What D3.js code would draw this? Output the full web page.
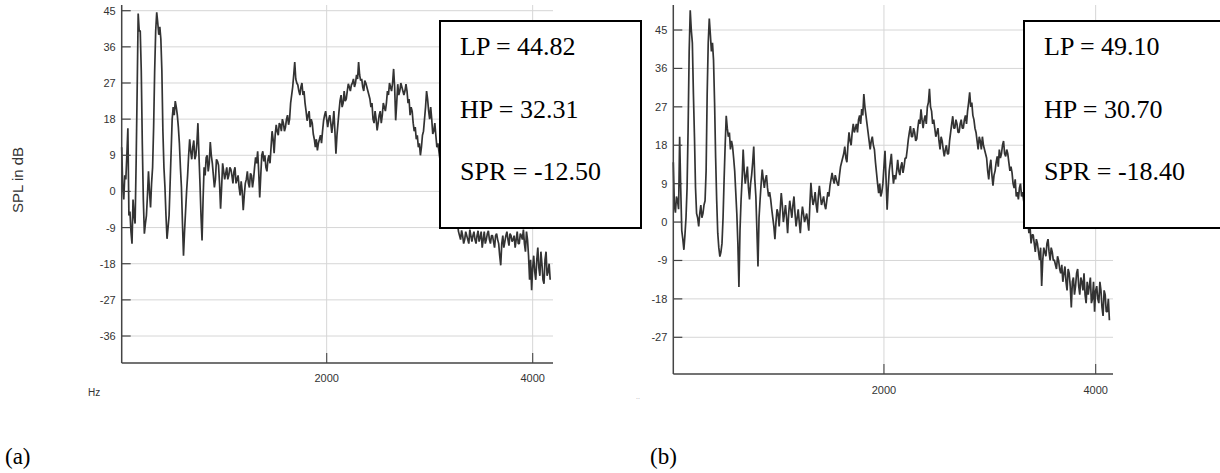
<!DOCTYPE html>
<html><head><meta charset="utf-8">
<script src="https://cdn.jsdelivr.net/npm/d3@7"></script>
<style>body{margin:0;background:#fff} svg{display:block}</style>
</head><body>
<svg id="c" width="1220" height="473"></svg>
<script>
// ---- data ----
const yTicksA = [45, 36, 27, 18, 9, 0, -9, -18, -27, -36];
const yTicksB = [45, 36, 27, 18, 9, 0, -9, -18, -27];
const xTicks = [2000, 4000];
const hzStart = 10, hzStep = 20;   // samples at 10, 30, 50 ... Hz (main) and 20, 40 ... Hz (in-between)
// panel (a): SPL at 10 + 20*i Hz
const splA = [
 11, -2, 3, 15.7, -5, -13, -6, 7, 44.3, 40,
 12, -10.5, -6, 5, -4, 6, 30, 44.6, 39, 38,
 15, 1, -11.8, -6, 10, 21, 22.5, 19, 12, 1,
 -16, -5, 4, 13, 8, 12.7, 9, 17, 2, -12.2,
 6, 8.4, 5, 12.3, 7, 1, 8, 6.5, -4.3, 7,
 3, 6, 4, 5.5, 2, 6, 3, 1, 2.5, -4.7,
 2, 5, 1, 4, 3, 8.5, 10, -1.5, 9, 7.5,
 6, 8, 7, 15, 9.5, 16.6, 14, 16.6, 18, 15,
 18, 16.6, 22, 26, 32.2, 27, 25, 26, 24, 22,
 17.6, 20, 18, 14.3, 11, 10.2, 13, 12, 17.6, 20,
 16, 19, 14.6, 20, 9.4, 17, 22.6, 21, 25, 23,
 26.8, 25, 27, 26, 29, 32.2, 27.6, 26, 27.6, 26,
 24, 21, 18, 20, 15.2, 19, 17, 22, 20, 25,
 27, 25, 30.5, 17.7, 26.7, 25, 26, 24, 26.7, 22,
 19, 20, 15, 13, 11, 9, 14, 18, 25, 20,
 21, 14.3, 17, 11, 10, 6, 3, 0, -3, -5,
 -2, -6, -4, -8, -11, -9.7, -13, -10, -12, -9.5,
 -12.5, -10, -13, -9.8, -11.5, -14, -10, -12, -9.8, -13,
 -11, -14, -10.5, -13, -18.4, -11, -12.5, -10, -13.5, -11,
 -12, -14, -10, -13, -11, -9.5, -15, -12, -22, -24.6,
 -16, -22, -14, -21, -18, -23, -15, -20, -22
];
// panel (a): SPL at 20 + 20*i Hz (other side of the noise band)
const splA2 = [
 1, 4, 9, -6, -10, -2, -8, 25, 40, 30,
 -2, -8, -1, 0, 2, 16, 40, 42, 41, 30,
 6, -6, -9, 2, 18, 19, 21, 16, 6, -8,
 -10, 0, 9, 10, 11, 8, 12, 9, -6, -2,
 4, 9, 7, 9, 4, 3, 7.5, 2, 1, 5,
 4.5, 3, 6, 4, 5, 2, 4, -1, 0, -1,
 3, 2, 4.5, 1, 6, 7, 5, 4, 10, 9,
 5, 9, 11, 13, 14, 15, 17, 15, 17, 16,
 19, 18, 24, 29, 28, 26.5, 24, 27, 25, 20,
 19, 16, 17, 13, 13, 12, 14, 15, 19, 18,
 18, 17, 17, 15, 14, 20, 24, 22, 22.5, 25,
 26, 26.5, 28, 27, 28, 29, 28, 25, 27, 25,
 23, 22, 17, 18, 17, 20, 19, 21, 22, 24,
 26, 27, 26, 22, 24, 27, 25, 25, 25, 23,
 21, 17, 16, 14, 12, 11, 15, 21, 23, 18,
 18, 15, 14, 12, 8, 5, 2, -1, -4, -6,
 -4, -7, -5, -10, -12, -11, -12, -11, -13, -11,
 -11, -12, -11, -12.5, -10, -12, -13, -10.5, -12, -11,
 -12.5, -11, -12, -16, -13, -14, -11, -12, -10.5, -12.5,
 -11, -12, -13, -10.5, -12, -13, -10, -16, -17, -19,
 -20, -17, -19, -15, -22, -17, -21, -18
];
// panel (b): SPL at 10 + 20*i Hz
const splB = [
 14, 2.2, 5, 20, -2, -6.5, 1, 22, 49.6, 42,
 20, 2, -1, 4, 2, 5, 30, 47.7, 40, 38,
 15, -2.6, -8.1, -5, 10, 24.9, 20, 17, 17.7, 12,
 2, -15.2, 5, 17, 9, 13, 5.3, 11, 17.7, 6,
 -10.4, 5.3, 12.3, 8, 11, 6, 5.3, 1, -4, 3,
 -1, 6.8, 0, 4, -2.6, 5, 1, 6, -1, 3,
 -2.6, 3.6, 0, 2, -2, 9.2, 4, 7, 2.2, 8.5,
 4, 6, 3, 7, 8.5, 11.5, 9, 10, 8.5, 13,
 15, 17.7, 14, 21, 18, 23, 22, 21, 25, 26.5,
 30, 25, 21, 17, 20, 17, 11.5, 6.8, 6, 9,
 16.7, 2.9, 12, 16, 9, 10, 14.6, 11, 14, 13,
 15, 19.3, 22.5, 20, 21, 19.5, 24, 26.4, 22, 25,
 27, 31.2, 26, 24, 20, 22, 17, 19, 15.4, 18,
 16, 21, 24.8, 22, 23, 21, 24, 22, 25, 26,
 30.4, 28, 24, 21, 17, 19, 20, 17, 15, 10,
 14.6, 8.5, 12, 15.4, 17, 16, 19, 15.4, 16, 12,
 11.6, 8, 6, 5.3, 9, 7, 4, 2, -2.6, -5,
 -3, -7, -5, -8.9, -15, -6, -8, -4, -9, -7,
 -8.9, -11, -9, -12, -14, -10.4, -16, -12, -20, -13,
 -15, -11, -17, -14, -12, -19, -17, -13, -18, -21,
 -15, -19, -16, -22, -17, -21, -23
];
// panel (b): SPL at 20 + 20*i Hz
const splB2 = [
 4, 6, 3, 8, -4, -3, 8, 40, 45, 30,
 8, 1, 2, 1, 4, 12, 42, 44, 42, 28,
 5, -6, -7, 1, 18, 22, 21, 19, 15, 7,
 -5, -2, 10, 12, 11, 8, 9, 14, 10, -2,
 1, 9, 10, 10, 8, 7, 3, -1, 0, 2,
 3, 4, 2, 1, 2, 3, 4, 2, 1, 0,
 1, 2, 1, 0, 4, 6, 5, 4, 6, 6,
 5, 4, 5, 6, 10, 10, 11, 9, 11, 14,
 16, 15, 18, 19, 21, 21, 23, 24, 23, 25,
 27, 23, 19, 19, 18, 14, 9, 9, 7, 13,
 10, 8, 14, 12, 11, 12, 12, 13, 11.5, 15,
 17, 21, 20, 22, 19, 22, 23, 24, 24, 23,
 28, 27, 23, 22, 21, 19, 20, 17, 17, 16,
 19, 23, 22, 24, 21, 23, 22, 24, 23, 28,
 27, 25, 22, 19, 20, 17, 18, 16, 12, 13,
 11, 11, 14, 13, 15, 18, 16, 17, 14, 13,
 9, 10, 7, 8, 6, 5, 3, 0, -1, -3,
 -5, -4, -7, -6, -9, -7, -5, -7, -6, -9,
 -10, -8, -11, -10, -12, -14, -11, -15, -14, -17,
 -12, -15, -13, -16, -17, -14, -15, -19, -14, -16,
 -18, -14, -20, -16, -21, -18
];
const boxA = ["LP = 44.82", "HP = 32.31", "SPR = -12.50"];
const boxB = ["LP = 49.10", "HP = 30.70", "SPR = -18.40"];
const panelLabels = ["(a)", "(b)"];
const yTitle = "SPL in dB";
const xUnit = "Hz";

// interleave main and in-between samples into [hz, value] pairs
function series(main, mid) {
  const out = [];
  main.forEach((v, i) => {
    out.push([hzStart + hzStep * i, v]);
    if (i < mid.length) out.push([hzStart + hzStep * i + hzStep / 2, mid[i]]);
  });
  return out;
}

// ---- layout ----
const panels = [
  {data: series(splA, splA2), yTicks: yTicksA, box: boxA, label: panelLabels[0],
   xr: [121.7, 551], xd: [10, 4178], yr: [363, 5], yd: [-42.72, 46.42],
   xLabY: 382, boxX: 440, boxW: 201, boxTextX: 460, labX: 5},
  {data: series(splB, splB2), yTicks: yTicksB, box: boxB, label: panelLabels[1],
   xr: [673.3, 1111], xd: [10, 4145], yr: [374, 5], yd: [-35.6, 50.86],
   xLabY: 394, boxX: 1024, boxW: 230, boxTextX: 1044, labX: 650}
];

const svg = d3.select("#c");
const font = "'Liberation Sans', Arial, sans-serif";
const serif = "'Liberation Serif', 'Times New Roman', serif";

panels.forEach(p => {
  const x = d3.scaleLinear().domain(p.xd).range(p.xr);
  const y = d3.scaleLinear().domain(p.yd).range(p.yr);
  const g = svg.append("g");
  const left = p.xr[0], right = p.xr[1], top = p.yr[1], bottom = p.yr[0];

  g.selectAll(".hg").data(p.yTicks).join("line")
    .attr("x1", left).attr("x2", right + 2)
    .attr("y1", d => y(d)).attr("y2", d => y(d))
    .attr("stroke", "#d6d6d6").attr("stroke-width", 1);
  g.selectAll(".vg").data(xTicks).join("line")
    .attr("x1", d => x(d)).attr("x2", d => x(d))
    .attr("y1", top).attr("y2", bottom)
    .attr("stroke", "#d6d6d6").attr("stroke-width", 1);

  const line = d3.line().x(d => x(d[0])).y(d => y(d[1]));
  g.append("path").datum(p.data)
    .attr("d", line)
    .attr("fill", "none")
    .attr("stroke", "#333")
    .attr("stroke-width", 1.7)
    .attr("stroke-linejoin", "bevel");

  g.selectAll(".yt").data(p.yTicks).join("line")
    .attr("x1", left).attr("x2", left + 9)
    .attr("y1", d => y(d)).attr("y2", d => y(d))
    .attr("stroke", "#444").attr("stroke-width", 1.2);
  g.selectAll(".xt").data(xTicks).join("line")
    .attr("x1", d => x(d)).attr("x2", d => x(d))
    .attr("y1", bottom - 10).attr("y2", bottom)
    .attr("stroke", "#555").attr("stroke-width", 1.2);

  g.append("line").attr("x1", left).attr("x2", left).attr("y1", top).attr("y2", bottom)
    .attr("stroke", "#444").attr("stroke-width", 1.5);
  g.append("line").attr("x1", left).attr("x2", right + 2).attr("y1", bottom).attr("y2", bottom)
    .attr("stroke", "#444").attr("stroke-width", 1.5);

  g.selectAll(".yl").data(p.yTicks).join("text")
    .attr("x", left - 6).attr("y", d => y(d) + 4)
    .attr("text-anchor", "end")
    .attr("font-family", font).attr("font-size", 11).attr("fill", "#333")
    .text(d => d);
  g.selectAll(".xl").data(xTicks).join("text")
    .attr("x", d => x(d)).attr("y", p.xLabY)
    .attr("text-anchor", "middle")
    .attr("font-family", font).attr("font-size", 11).attr("fill", "#333")
    .text(d => d);

  g.append("rect").attr("x", p.boxX).attr("y", 21)
    .attr("width", p.boxW).attr("height", 207)
    .attr("fill", "#fff").attr("stroke", "#000").attr("stroke-width", 2);
  g.selectAll(".bt").data(p.box).join("text")
    .attr("x", p.boxTextX).attr("y", (d, i) => 55 + i * 62.5)
    .attr("font-family", serif).attr("font-size", 26).attr("fill", "#000")
    .text(d => d);

  g.append("text").attr("x", p.labX).attr("y", 464)
    .attr("font-family", serif).attr("font-size", 23).attr("fill", "#000")
    .text(p.label);
});

svg.append("text")
  .attr("transform", "translate(23,180) rotate(-90)")
  .attr("text-anchor", "middle")
  .attr("font-family", font).attr("font-size", 15).attr("fill", "#333")
  .text(yTitle);
svg.append("text").attr("x", 88).attr("y", 396)
  .attr("font-family", font).attr("font-size", 10).attr("fill", "#333")
  .text(xUnit);
svg.append("text").attr("x", 636).attr("y", 399)
  .attr("font-family", font).attr("font-size", 7).attr("fill", "#aaa")
  .text("..");
</script>
</body></html>
